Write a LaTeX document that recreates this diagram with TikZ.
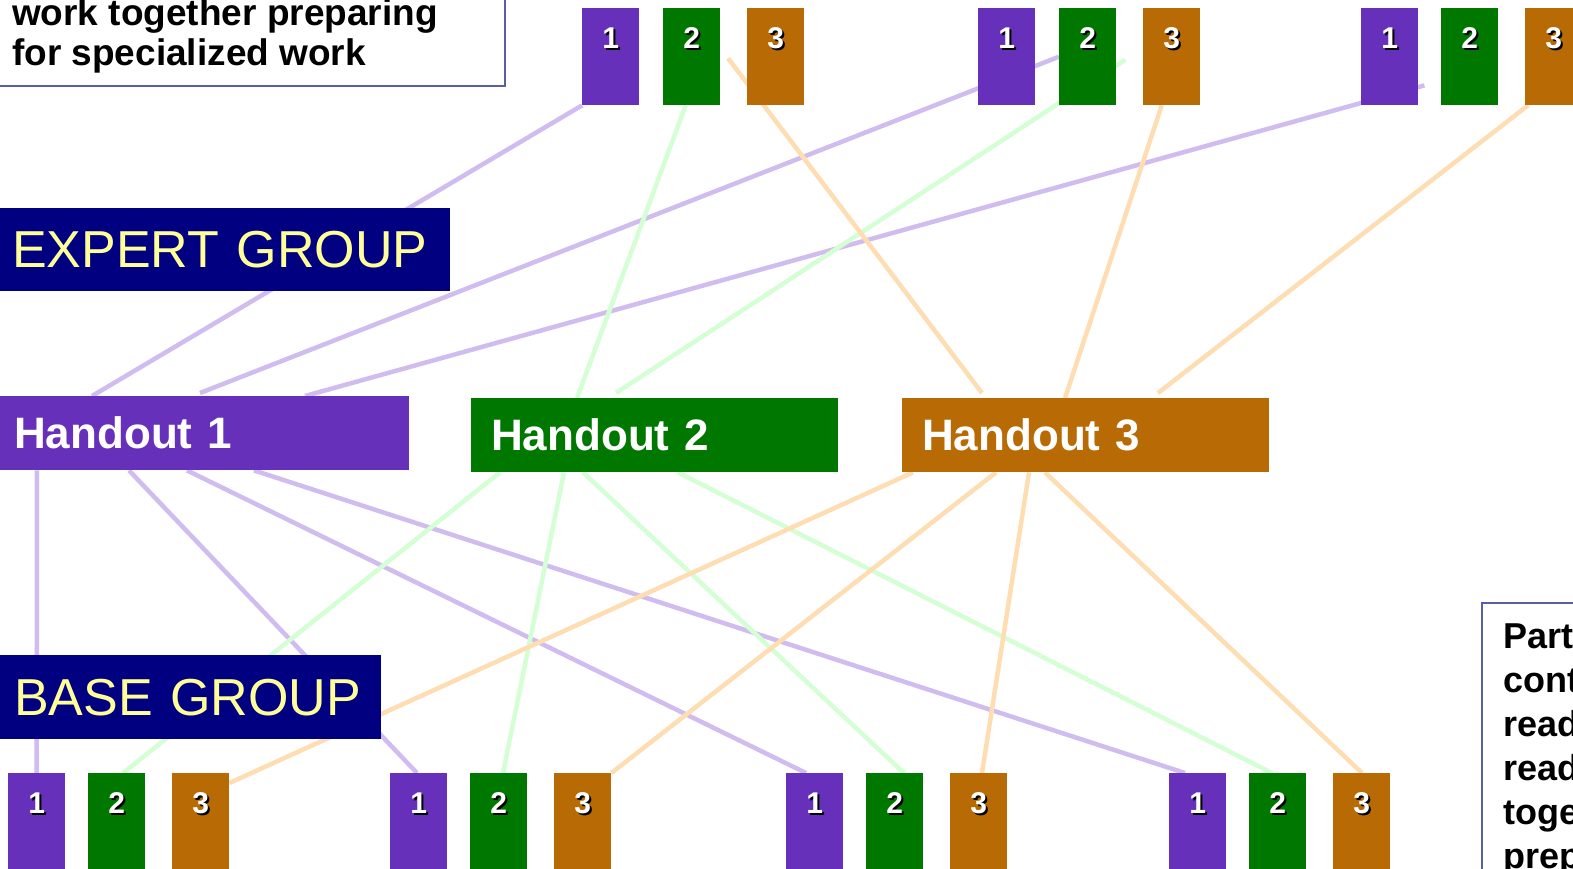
\documentclass[tikz,border=0pt]{standalone}
\usepackage{fontspec}
\setmainfont{Liberation Sans}
\usetikzlibrary{calc}
\pgfdeclarelayer{bg}
\pgfsetlayers{bg,main}
\definecolor{cpur}{RGB}{103,48,187}
\definecolor{cgrn}{RGB}{0,120,0}
\definecolor{corg}{RGB}{184,107,5}
\definecolor{cnavy}{RGB}{0,0,128}
\definecolor{cyel}{RGB}{255,255,153}
\definecolor{lpur}{RGB}{208,188,238}
\definecolor{lgrn}{RGB}{212,255,212}
\definecolor{lorg}{RGB}{255,221,178}
\definecolor{cbord}{RGB}{90,94,168}
\newcommand\shnum[1]{\makebox[0pt][l]{\kern2pt\raisebox{-2pt}{\color{black}#1}}#1}
\begin{document}
\begin{tikzpicture}[x=1pt,y=-1pt,
  numbox/.style={fill=#1, inner sep=0pt, minimum width=57pt, text height=40pt, text depth=57pt, text=white, font=\fontsize{30}{30}\selectfont\bfseries, anchor=north west},
  hbox/.style={fill=#1, text=white, font=\fontsize{44}{44}\selectfont\bfseries, anchor=north west, minimum height=74pt, inner ysep=0pt, align=left},
  gbox/.style={fill=cnavy, text=cyel, font=\fontsize{52}{52}\selectfont, anchor=north west, inner ysep=0pt, align=left},
  pline/.style={draw=lpur, line width=4.5pt},
  gline/.style={draw=lgrn, line width=4.5pt},
  oline/.style={draw=lorg, line width=4.5pt},
  txt/.style={font=\fontsize{37}{37}\selectfont\bfseries, anchor=base west, inner sep=0pt},
  rtxt/.style={font=\fontsize{36}{36}\selectfont\bfseries, anchor=base west, inner sep=0pt},
  frame/.style={draw=cbord, line width=2pt, fill=white, inner sep=0pt, anchor=north west}
]
\useasboundingbox (0,0) rectangle (1573,868);
\clip (0,0) rectangle (1573,868);
% text frames
\node[frame, minimum width=524pt, minimum height=95pt] (tlbox) at (-20,-10) {};
\node[txt] (tl1) at (12,25) {work together preparing};
\node[txt] (tl2) at (12,65) {for specialized work};
\node[frame, minimum width=150pt, minimum height=300pt] (rbox) at (1481,602) {};
\node[rtxt] (r1) at (1503,648) {Part};
\node[rtxt] (r2) at (1503,692) {cont};
\node[rtxt] (r3) at (1503,736) {read};
\node[rtxt] (r4) at (1503,780) {read};
\node[rtxt] (r5) at (1503,824) {toge};
\node[rtxt] (r6) at (1503,868) {prep};
% top boxes
\node[numbox=cpur] (tA1) at (582,8) {\shnum{1}};
\node[numbox=cgrn] (tA2) at (663,8) {\shnum{2}};
\node[numbox=corg] (tA3) at (747,8) {\shnum{3}};
\node[numbox=cpur] (tB1) at (978,8) {\shnum{1}};
\node[numbox=cgrn] (tB2) at (1059,8) {\shnum{2}};
\node[numbox=corg] (tB3) at (1143,8) {\shnum{3}};
\node[numbox=cpur] (tC1) at (1361,8) {\shnum{1}};
\node[numbox=cgrn] (tC2) at (1441,8) {\shnum{2}};
\node[numbox=corg] (tC3) at (1525,8) {\shnum{3}};
% group labels
\node[gbox, inner xsep=12pt, text width=426pt, minimum height=83pt] (eg) at (0,208) {EXPERT GROUP};
\node[gbox, inner xsep=14pt, text width=353pt, minimum height=84pt] (bgp) at (0,655) {BASE GROUP};
% handouts
\node[hbox=cpur, inner xsep=14pt, text width=381pt] (h1) at (0,396) {Handout 1};
\node[hbox=cgrn, inner xsep=20pt, text width=327pt] (h2) at (471,398) {Handout 2};
\node[hbox=corg, inner xsep=20pt, text width=327pt] (h3) at (902,398) {Handout 3};
% bottom boxes
\node[numbox=cpur] (b11) at (8,773) {\shnum{1}};
\node[numbox=cgrn] (b12) at (88,773) {\shnum{2}};
\node[numbox=corg] (b13) at (172,773) {\shnum{3}};
\node[numbox=cpur] (b21) at (390,773) {\shnum{1}};
\node[numbox=cgrn] (b22) at (470,773) {\shnum{2}};
\node[numbox=corg] (b23) at (554,773) {\shnum{3}};
\node[numbox=cpur] (b31) at (786,773) {\shnum{1}};
\node[numbox=cgrn] (b32) at (866,773) {\shnum{2}};
\node[numbox=corg] (b33) at (950,773) {\shnum{3}};
\node[numbox=cpur] (b41) at (1169,773) {\shnum{1}};
\node[numbox=cgrn] (b42) at (1249,773) {\shnum{2}};
\node[numbox=corg] (b43) at (1333,773) {\shnum{3}};
% connectors
\begin{pgfonlayer}{bg}
\draw[pline] (tA1.south west) -- ($(h1.north west)+(92,0)$);
\draw[pline] (tB2.west) -- ($(h1.north west)+(200,-3)$);
\draw[pline] ($(tC1.south east)+(6,-20)$) -- ($(h1.north west)+(305,0)$);
\draw[gline] ($(tA2.south)+(-6,0)$) -- ($(h2.north west)+(106,0)$);
\draw[gline] ($(tB2.east)+(9,3)$) -- ($(h2.north west)+(145,-5)$);
\draw[oline] ($(tA3.west)+(-19,1.5)$) -- ($(h3.north west)+(80,-5)$);
\draw[oline] ($(tB3.south)+(-10,0)$) -- ($(h3.north west)+(163,0)$);
\draw[oline] ($(tC3.south west)+(3,0)$) -- ($(h3.north west)+(256,-5)$);
\draw[pline] ($(h1.south west)+(37,0)$) -- (b11.north);
\draw[pline] ($(h1.south west)+(129,0)$) -- ($(b21.north west)+(27,0)$);
\draw[pline] ($(h1.south west)+(187,0)$) -- ($(b31.north west)+(20,0)$);
\draw[pline] ($(h1.south west)+(254,0)$) -- ($(b41.north west)+(16,0)$);
\draw[gline] ($(h2.south west)+(29,0)$) -- ($(b12.north west)+(35,0)$);
\draw[gline] ($(h2.south west)+(93,0)$) -- ($(b22.north west)+(33,0)$);
\draw[gline] ($(h2.south west)+(112,0)$) -- ($(b32.north west)+(38,0)$);
\draw[gline] ($(h2.south west)+(207,0)$) -- ($(b42.north west)+(23,0)$);
\draw[oline] ($(h3.south west)+(11,0)$) -- ($(b13.north east)+(0,10)$);
\draw[oline] ($(h3.south west)+(94,0)$) -- (b23.north east);
\draw[oline] ($(h3.south west)+(127,0)$) -- ($(b33.north west)+(32,0)$);
\draw[oline] ($(h3.south west)+(143,0)$) -- ($(b43.north west)+(29,0)$);
\end{pgfonlayer}
\end{tikzpicture}
\end{document}
